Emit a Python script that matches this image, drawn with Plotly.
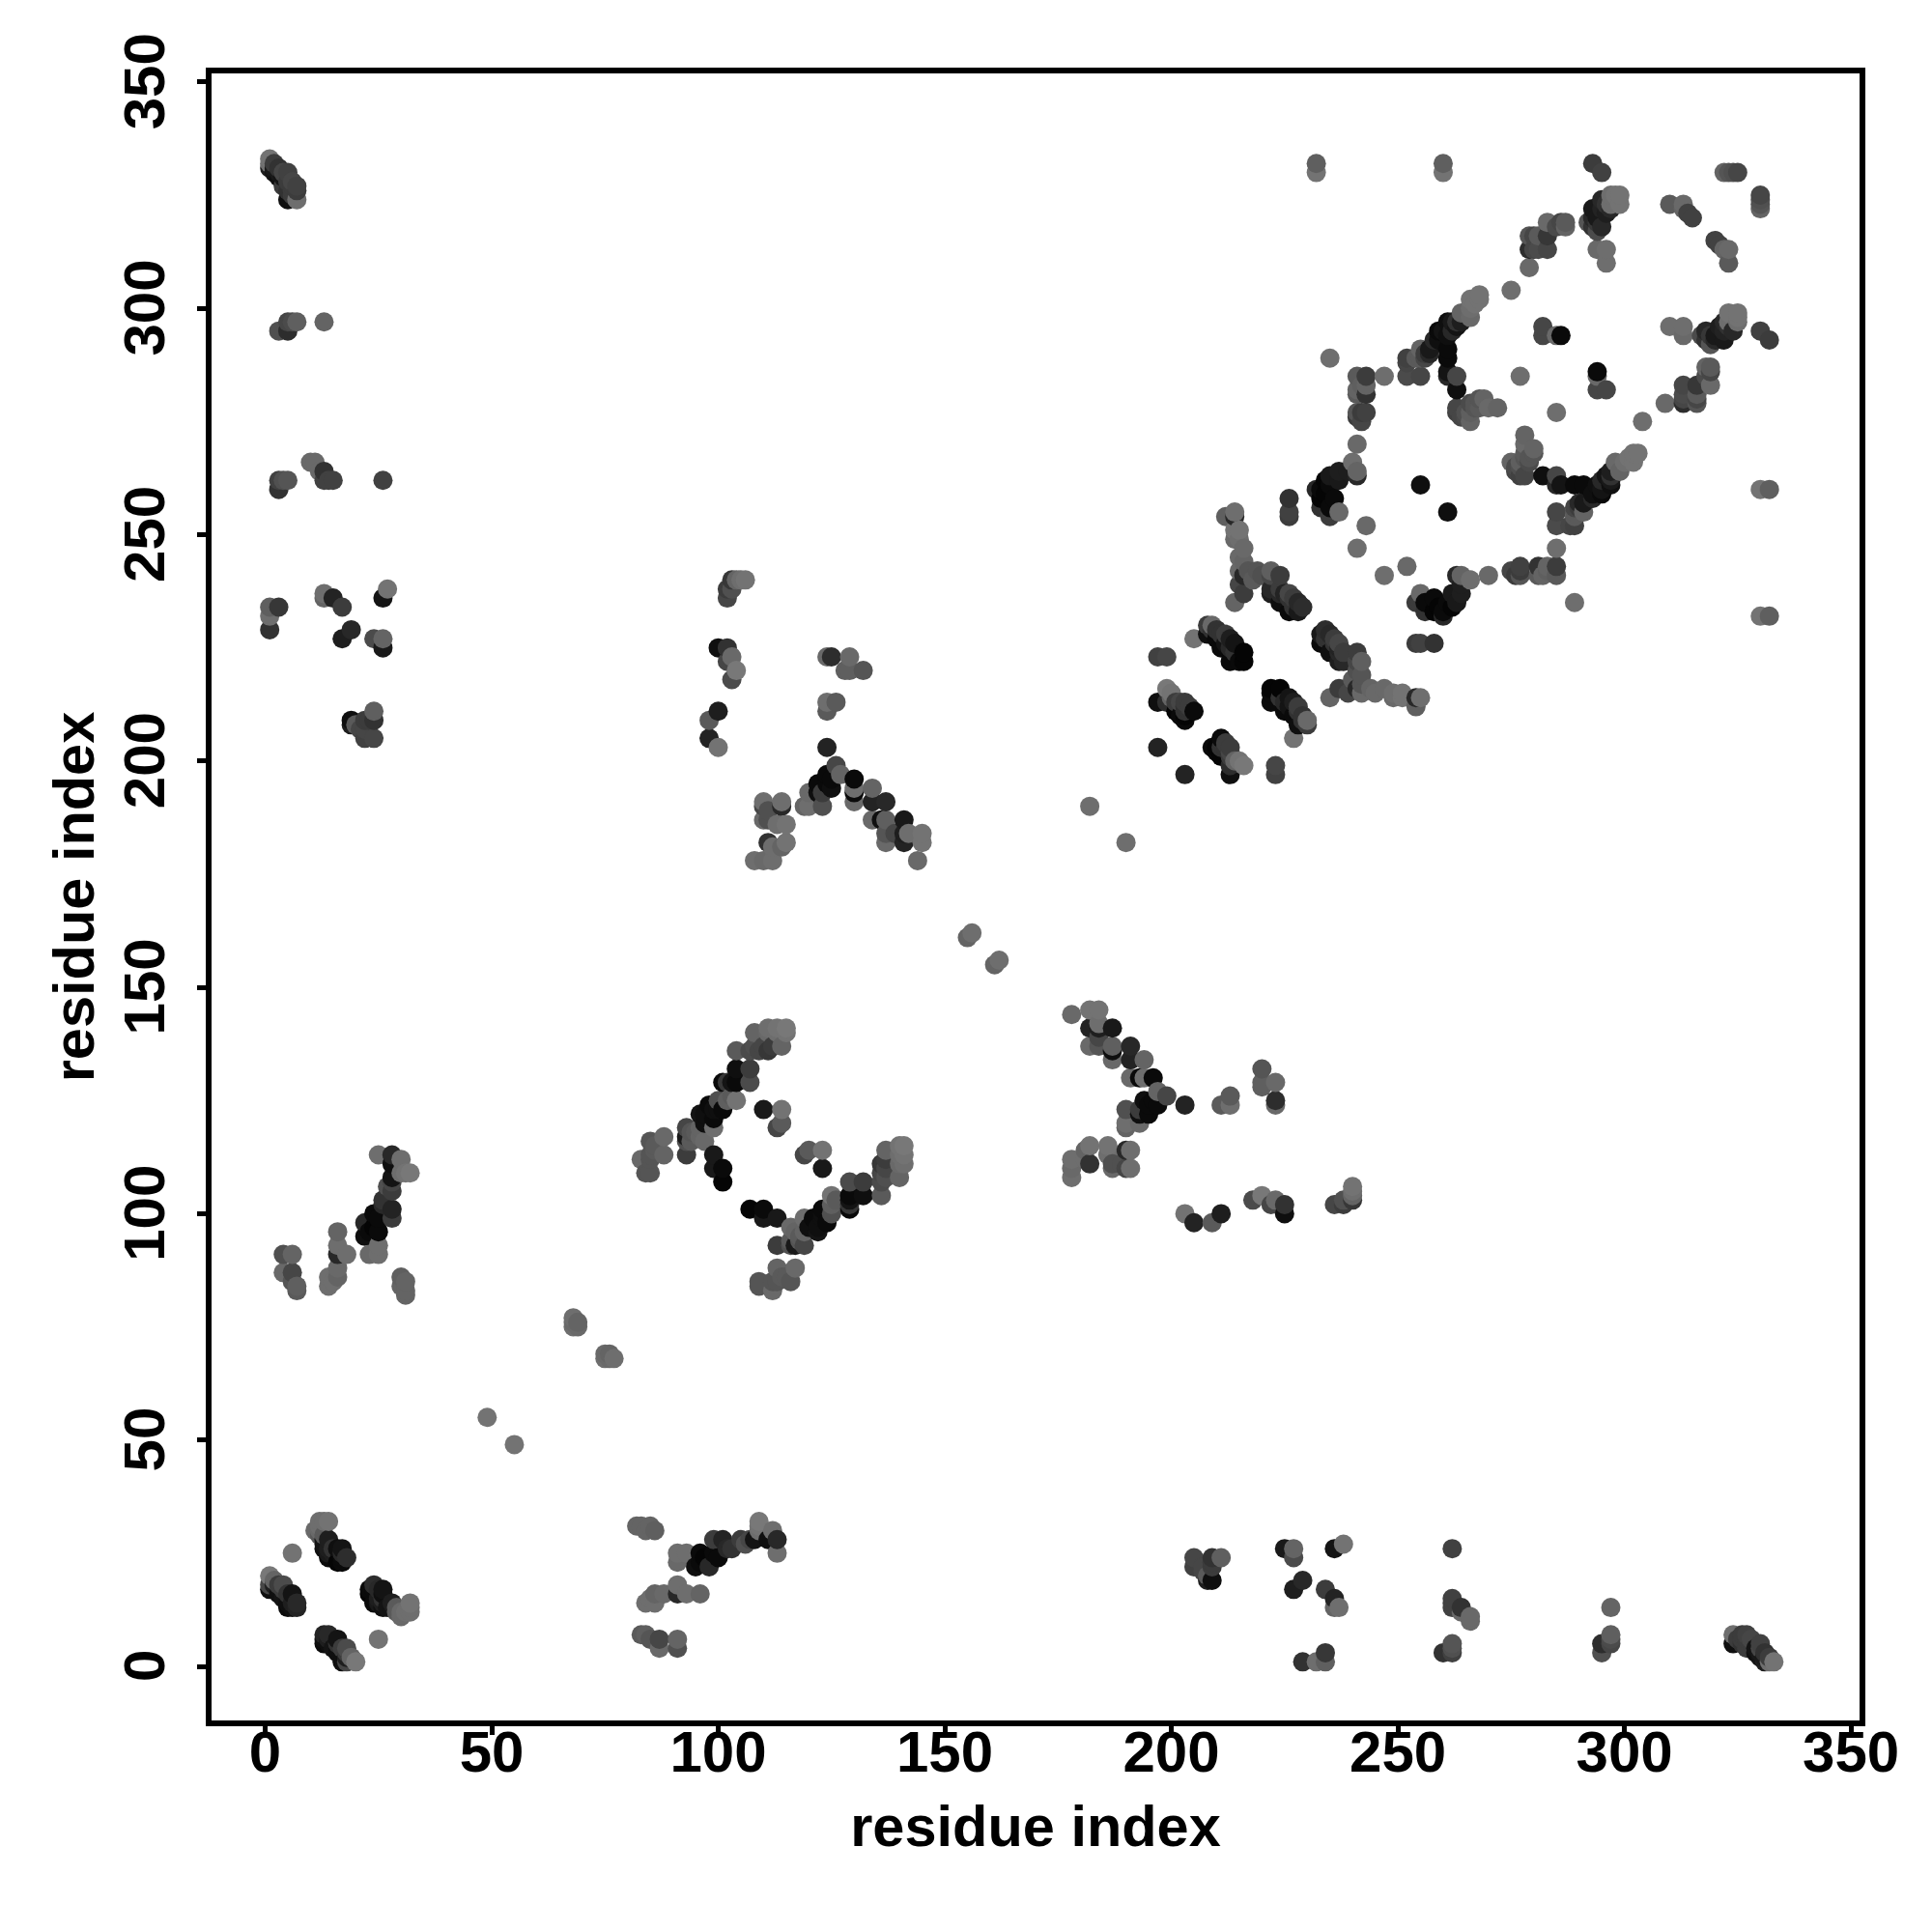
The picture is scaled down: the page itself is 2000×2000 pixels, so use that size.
import pandas as pd
import plotly.graph_objects as go

# contacts as (residue i, residue j, grey level); the map is symmetric, only i < j is listed
near_nterm = [(1,20,120),(1,18,70),(1,17,15),(2,19,100),(2,18,30),(3,16,15),(3,18,60),(4,18,75),(4,17,60),(4,15,20),
 (5,16,50),(5,14,15),(5,13,10),(6,16,20),(6,14,30),(6,13,15),(7,14,40),(7,13,35),(6,25,115),
 (11,30,105),(12,32,110),(12,30,105),(12,31,110),(13,32,110),(14,32,115),(12,29,90),(13,29,90),(13,28,20),(14,28,30),(13,26,15),
 (13,27,20),(15,26,50),(14,26,30),(14,25,25),(16,26,15),(17,26,20),(14,24,10),(15,25,30),(16,23,5),(17,24,10),(18,24,45),(17,23,10),(17,25,40)]
nterm_mid = [(25,113,110),(28,113,40),(30,112,110),(28,111,15),(32,109,120),(31,109,115),(30,109,110),(28,108,20),(28,107,70),
 (27,106,80),(28,105,60),(26,103,50),(28,101,35),(28,99,60),(26,102,40),(24,100,10),(25,99,10),(22,98,40),(24,97,5),(25,96,10),
 (22,95,15),(23,96,10),(25,93,110),(25,91,110),(23,91,105),(16,96,100),(16,93,110),(18,91,110),(16,91,40),(16,88,105),(14,86,110),
 (14,84,110),(16,86,100),(15,85,110),(4,91,80),(6,91,100),(4,87,105),(6,87,70),(6,85,85),(7,83,90),(7,84,95),
 (30,86,95),(30,84,100),(31,82,100),(31,83,100),(31,85,100)]
nterm_far = [(10,266,105),(11,266,105),(12,264,105),(13,264,50),(13,262,65),(15,262,65),(14,262,65),(3,262,65),(4,262,80),(5,262,85),
 (3,260,50),(26,262,65),(1,234,95),(3,234,55),(1,232,110),(1,229,50),(13,237,110),(13,236,100),(15,236,35),(17,234,60),(27,238,115),
 (26,236,20),(19,229,40),(17,227,30),(24,227,75),(26,227,100),(26,225,25),(24,211,95),(19,209,15),(20,208,90),(19,208,30),(22,209,60),
 (23,209,60),(24,209,50),(21,207,70),(22,207,70),(22,205,65),(24,205,70),
 (1,333,115),(1,332,110),(1,331,30),(2,332,60),(2,331,25),(2,330,20),(3,331,50),(3,330,25),(3,329,15),(4,330,70),(4,329,20),(5,330,65),
 (4,327,60),(5,328,60),(5,326,50),(6,328,70),(6,326,60),(6,327,60),(7,327,65),(7,326,60),(5,324,15),(6,325,60),(7,324,110),
 (3,295,80),(5,295,45),(5,297,70),(6,297,75),(7,297,95),(13,297,100)]
mid_far = [(106,240,115),(105,240,110),(104,240,100),(103,240,55),(102,238,60),(103,238,80),(102,236,70),(100,225,15),(102,225,50),
 (103,223,105),(102,222,70),(104,220,120),(103,218,75),(100,211,30),(98,209,90),(98,205,35),(100,203,115),(124,203,35),
 (124,213,110),(126,213,90),(124,211,90),(124,223,105),(125,223,45),(129,223,105),(128,220,95),(129,220,95),(132,220,85),
 (126,199,70),(127,197,100),(124,197,10),(125,196,10),(122,195,10),(124,195,10),(125,194,15),(122,193,15),(123,193,60),(120,193,105),
 (120,190,110),(119,190,100),(123,190,80),(130,193,10),(130,194,110),(130,196,10),(130,191,105),(134,194,100),(134,191,35),(137,191,40),
 (134,187,105),(136,187,15),(137,187,95),(137,184,85),(137,182,105),(141,187,25),(141,184,30),(142,184,110),(139,184,70),(141,182,35),
 (145,184,115),(145,182,115),(144,178,105),(110,191,110),(114,191,110),(114,190,40),(110,187,105),(111,187,80),(111,189,80),(115,186,115),
 (113,186,110),(111,182,50),(112,181,110),(115,182,115),(114,181,100),(108,178,110),(112,178,110),(110,178,105),(110,190,70)]
mid_block = [(115,141,120),(115,140,115),(113,141,115),(113,140,110),(111,141,110),(111,140,105),(108,140,100),(114,137,100),(111,136,55),
 (110,137,70),(109,136,70),(107,136,75),(108,137,80),(104,136,90),(112,137,60),(104,132,15),(107,132,60),(104,129,10),(107,129,75),
 (101,129,10),(102,129,55),(103,129,20),(104,125,115),(102,125,95),(103,126,90),(100,125,80),(98,124,10),(99,123,15),(100,123,15),
 (101,123,10),(97,122,15),(96,122,20),(99,121,10),(97,120,15),(99,119,110),(96,119,100),(93,119,70),(94,118,85),(95,118,90),(93,117,25),
 (96,117,100),(94,116,90),(97,116,105),(93,113,60),(99,113,25),(99,110,25),(101,110,10),(101,107,5),(88,117,105),(85,116,85),(88,113,100),
 (85,113,85),(85,112,85),(83,112,105),(84,109,85),(85,109,85),(86,114,90),(86,115,90),(110,123,25),(114,123,115),(113,119,70),(114,120,90),
 (93,116,80)]
isolated = [(49,55,115),(68,77,110),(68,76,105),(68,75,110),(69,76,100),(69,75,105),(155,161,100),(156,162,110),(182,190,110)]
c_sheet_a = [(197,223,65),(199,223,70),(205,227,115),(208,230,60),(209,230,105),(208,228,15),(210,229,50),(210,227,10),(212,228,60),
 (212,226,20),(211,225,10),(214,226,20),(214,224,50),(213,222,10),(216,224,5),(215,222,10),(216,222,5),(209,229,50),(211,228,50),
 (213,225,40),(213,227,30),(197,213,15),(199,216,120),(200,215,115),(200,214,100),(199,213,45),(201,213,60),(202,213,70),(203,213,60),
 (201,211,5),(203,210,5),(205,211,10),(202,210,10),(203,212,50),(204,212,60),(203,209,10),(203,211,50),(197,203,35)]
c_sheet_b = [(212,254,95),(214,255,110),(214,254,40),(214,251,115),(215,251,115),(215,249,110),(214,249,105),(216,247,105),(215,245,105),
 (216,244,100),(215,242,105),(216,241,40),(219,242,85),(217,242,85),(218,240,90),(215,239,70),(216,237,60),(214,235,100),(220,241,80),
 (222,242,95),(222,241,70),(224,241,60),(222,238,40),(222,237,30),(224,238,60),(224,237,40),(225,237,35),(224,235,15),(226,236,50),
 (226,233,10),(227,234,50),(229,234,45),(228,233,25),(227,236,60),(228,235,40),(226,237,70),(226,258,50),(226,255,65),(226,254,60)]
c_sheet_c = [(235,289,110),(241,285,90),(243,285,60),(241,282,100),(243,283,100),(243,281,50),(241,281,90),(242,283,95),(243,277,65),
 (241,277,85),(242,275,70),(241,276,60),(242,277,60),(241,270,105),(247,285,110),(252,285,75),(255,285,70),(252,288,70),(252,289,65),
 (255,289,90),(263,285,70),(261,286,20),(263,282,15),(261,285,40),(240,266,110),(241,264,100),(239,264,30),(237,264,30),(237,262,25),
 (235,263,25),(234,262,5),(232,260,40),(233,260,10),(235,261,10),(234,259,5),(233,258,5),(235,255,60),(237,255,105),(235,256,10),
 (236,258,10),(241,263,40),(243,252,105),(241,247,110),(255,261,15),(235,254,60),(233,256,50),(277,285,110),
 (263,277,65),(264,276,70),(265,276,75),(265,277,80),(266,275,100),(266,279,75),(267,278,85),(267,279,85),(268,278,90),(269,280,100),
 (270,278,105),(272,278,100),(266,277,95),(268,280,85),(263,278,70)]
c_sheet_d = [(260,332,95),(260,330,115),(293,332,60),(295,330,65),(299,325,115),(298,325,115),(297,325,110),(299,323,115),(297,323,110),
 (295,324,40),(295,322,35),(293,322,25),(296,321,30),(293,320,40),(294,320,25),(292,319,85),(294,317,75),(294,313,105),(296,313,110),
 (296,310,110),(295,318,40),(294,319,55),(293,318,50),(296,323,50),(297,322,40),(283,319,105),(286,319,70),(287,318,100),(279,316,85),
 (281,316,90),(283,316,55),(279,313,45),(283,313,70),(281,313,75),(279,309,105),(275,304,110),(287,319,90),(285,318,75),
 (268,303,115),(268,302,115),(267,301,115),(266,302,115),(266,300,110),(264,299,100),(266,298,105),(264,297,30),(262,297,25),(263,297,50),
 (261,297,15),(263,296,20),(259,295,10),(261,294,15),(259,293,15),(258,293,40),(261,291,10),(257,291,25),(256,290,60),(255,291,100),
 (261,289,10),(254,289,90),(257,290,40),(256,289,70),(262,295,40),(260,295,20),(282,296,70),(282,294,70),(285,294,105),(286,294,10),
 (310,323,90),(313,323,105),(313,322,100),(314,321,65),(315,320,65),(322,330,100),(323,330,85),(324,330,80),(325,330,70),
 (232,332,95),(232,330,115),(280,313,70),(280,316,70)]
x_ticks = [0, 50, 100, 150, 200, 250, 300, 350]
y_ticks = [0, 50, 100, 150, 200, 250, 300, 350]
axis_label = "residue index"

rows = near_nterm + nterm_mid + nterm_far + mid_far + mid_block + isolated + c_sheet_a + c_sheet_b + c_sheet_c + c_sheet_d
upper = pd.DataFrame(rows, columns=["x", "y", "g"]).drop_duplicates(["x", "y"])
lower = upper.rename(columns={"x": "y", "y": "x"})
pts = pd.concat([upper, lower]).sort_values(["x", "y"])

fig = go.Figure(go.Scatter(
    x=pts["x"], y=pts["y"], mode="markers",
    marker=dict(size=20, color=[f"rgb({g},{g},{g})" for g in pts["g"]], line=dict(width=0), opacity=1),
    showlegend=False))

font = dict(family="Liberation Sans", size=60, color="black", weight="bold")
title_font = dict(family="Liberation Sans", size=59.5, color="black", weight="bold")
axis = dict(showgrid=False, zeroline=False, showline=True, linecolor="black", linewidth=6, mirror=True,
            ticks="outside", ticklen=9, tickwidth=5, tickcolor="black", tickfont=font)
fig.update_xaxes(range=[-11.83, 351.9], tickvals=x_ticks, ticktext=[str(v) for v in x_ticks], ticklabelstandoff=-34,
                 title=dict(text=axis_label, font=title_font, standoff=25), **axis)
fig.update_yaxes(range=[-11.95, 351.9], tickvals=y_ticks, ticktext=[str(v) + "\u00a0" for v in y_ticks], tickangle=-90,
                 ticklabelstandoff=10, title=dict(text=axis_label, font=title_font, standoff=1), **axis)
fig.update_layout(width=2000, height=2000, paper_bgcolor="white", plot_bgcolor="white",
                  margin=dict(l=211, r=83, t=68, b=227, autoexpand=False))
fig.write_html("out.html")
